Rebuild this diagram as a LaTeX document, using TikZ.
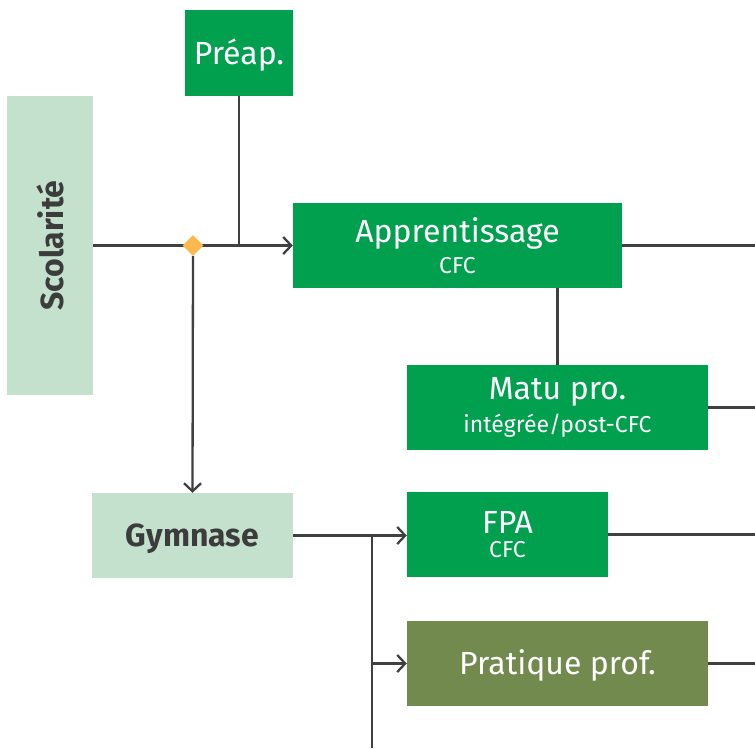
\documentclass[tikz,border=0pt]{standalone}
\usepackage{fontspec}
\setmainfont{Fira Sans}
\usetikzlibrary{arrows.meta,shapes.geometric}
\definecolor{dgreen}{HTML}{00A04E}
\definecolor{lgreen}{HTML}{C3E1CD}
\definecolor{olive}{HTML}{738A4F}
\definecolor{orng}{HTML}{FDB94D}
\definecolor{lnc}{HTML}{404040}
\definecolor{txtc}{HTML}{3C3C3C}
\newcommand{\bigtxt}{\fontsize{32}{32}\selectfont}
\newcommand{\smalltxt}{\fontsize{23}{23}\selectfont}
\begin{document}
\begin{tikzpicture}[x=1pt,y=-1pt,
  box/.style={rectangle,inner sep=0pt,align=center,text=white},
  oneline/.style={text height=22.5pt,text depth=0pt},
  darkbox/.style={box,fill=dgreen},
  lightbox/.style={box,fill=lgreen,text=txtc,font=\bigtxt\bfseries},
  olivebox/.style={box,fill=olive},
  big/.style={font=\bigtxt},
  conn/.style={draw=lnc,line width=2.3pt},
  arr/.style={conn,-{Straight Barb[length=8pt,width=17pt,line width=2.3pt]}}
]
\useasboundingbox (0,0) rectangle (755,748);
\node[darkbox,big,oneline,minimum width=108pt,minimum height=86pt] (preap) at (239,53) {Préap.};
\node[lightbox,minimum width=86pt,minimum height=299pt] (scol) at (50,245.5) {};
\node[text=txtc,font=\bigtxt\bfseries,rotate=90] (scolt) at (scol.center) {Scolarité};
\node[darkbox,minimum width=329pt,minimum height=85pt] (appr) at (457.5,245.5)
  {\bigtxt Apprentissage\\[7pt]\smalltxt CFC};
\node[darkbox,minimum width=301pt,minimum height=85pt] (matu) at (557.5,407.5)
  {\bigtxt Matu pro.\\[7pt]\smalltxt intégrée/post-CFC};
\node[lightbox,oneline,minimum width=201pt,minimum height=85pt] (gym) at (192.5,535.5) {Gymnase};
\node[darkbox,minimum width=201pt,minimum height=85pt] (fpa) at (507.5,534.5)
  {\bigtxt FPA\\[7pt]\smalltxt CFC};
\node[olivebox,big,oneline,minimum width=301pt,minimum height=85pt] (prat) at (557.5,663.5) {Pratique prof.};

\coordinate (jp) at (239,245.5);
\coordinate (e1) at (755,245.5);
\coordinate (e2) at (755,407.5);
\coordinate (e3) at (755,534.5);
\coordinate (e4) at (755,663.5);
\coordinate (j2) at (372,535.5);
\coordinate (j3) at (372,663.5);
\coordinate (bot) at (372,748);

\draw[arr] (scol.east |- appr.west) -- (appr.west);
\draw[conn] (preap.south) -- (jp);
\node[diamond,fill=orng,inner sep=0pt,minimum width=21pt,minimum height=21pt] (dia) at (193,245.5) {};
\draw[arr] (dia.south) -- (gym.north);
\draw[conn] (appr.east) -- (e1);
\draw[conn] (appr.south -| matu.north) -- (matu.north);
\draw[conn] (matu.east) -- (e2);
\draw[arr] (gym.east) -- (fpa.west |- gym.east);
\draw[conn] (j2) -- (bot);
\draw[arr] (j3) -- (prat.west);
\draw[conn] (fpa.east) -- (e3);
\draw[conn] (prat.east) -- (e4);
\end{tikzpicture}
\end{document}
